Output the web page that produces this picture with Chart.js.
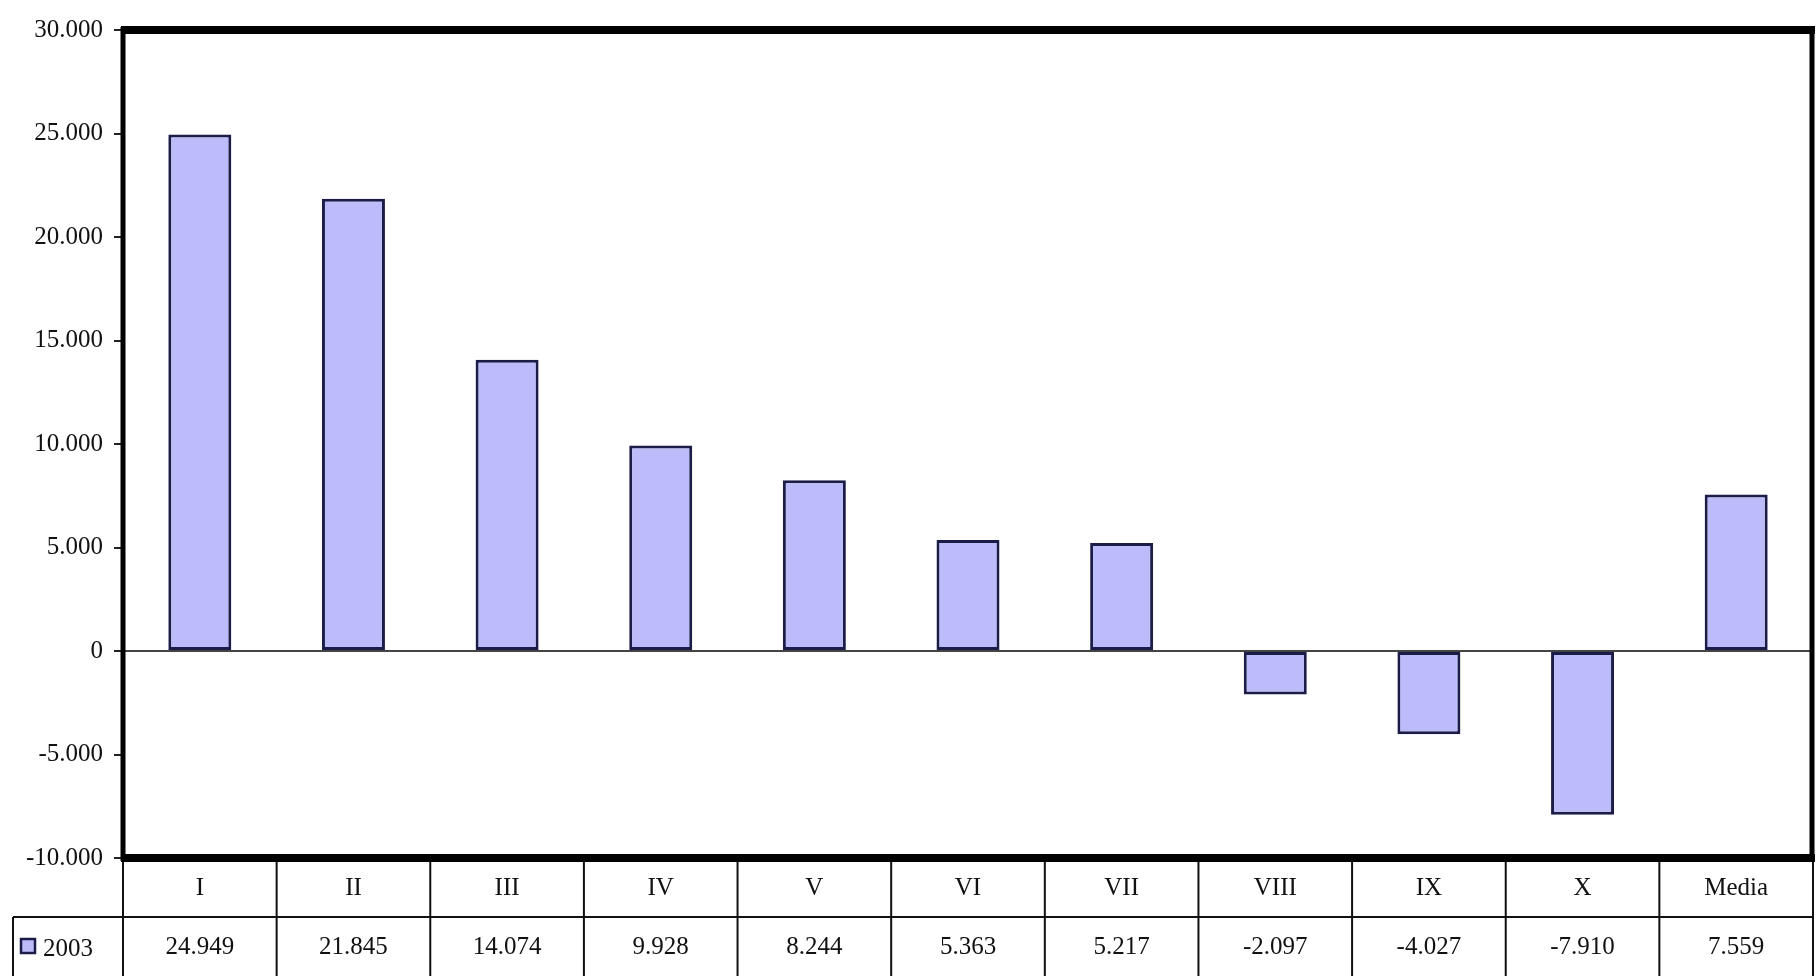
<!DOCTYPE html>
<html>
<head>
<meta charset="utf-8">
<script src="https://cdn.jsdelivr.net/npm/chart.js@4/dist/chart.umd.min.js"></script>
<style>
  html, body { margin: 0; padding: 0; background: #fff; }
  #wrap { width: 1816px; height: 976px; position: relative; }
</style>
</head>
<body>
<div id="wrap"><canvas id="c"></canvas></div>
<script>
const categories = ['I', 'II', 'III', 'IV', 'V', 'VI', 'VII', 'VIII', 'IX', 'X', 'Media'];
const values2003 = [24949, 21845, 14074, 9928, 8244, 5363, 5217, -2097, -4027, -7910, 7559];
const seriesName = '2003';
const yTicks = [-10000, -5000, 0, 5000, 10000, 15000, 20000, 25000, 30000];

const FONT = '"Liberation Serif", "Times New Roman", serif';
const BAR_FILL = '#bcbcfa';
const BAR_EDGE = '#1c1c48';
const TEXT = '#111';

function fmt(v) {
  const neg = v < 0;
  const s = String(Math.abs(Math.round(v)));
  const withDots = s.replace(/\B(?=(\d{3})+(?!\d))/g, '.');
  return (neg ? '-' : '') + withDots;
}

const framePlugin = {
  id: 'frameTable',
  beforeDatasetsDraw(chart) {
    const { ctx, chartArea: a, scales: { y } } = chart;
    const y0 = y.getPixelForValue(0);
    ctx.save();
    ctx.strokeStyle = '#444';
    ctx.lineWidth = 2;
    ctx.beginPath();
    ctx.moveTo(a.left, y0);
    ctx.lineTo(a.right, y0);
    ctx.stroke();
    ctx.restore();
  },
  afterDraw(chart) {
    const { ctx, chartArea: a, scales: { x } } = chart;
    const H = chart.height;
    const n = categories.length;
    const w = (a.right - a.left) / n;
    const row1Top = a.bottom;
    const row2Top = a.bottom + 59;
    ctx.save();
    // table grid
    ctx.strokeStyle = '#111';
    ctx.lineWidth = 2;
    ctx.beginPath();
    for (let i = 0; i <= n; i++) {
      const bx = i === n ? a.right : x.getPixelForValue(i) - w / 2;
      ctx.moveTo(bx, row1Top);
      ctx.lineTo(bx, H);
    }
    ctx.moveTo(13, row2Top);
    ctx.lineTo(a.right, row2Top);
    ctx.moveTo(13, row2Top);
    ctx.lineTo(13, H);
    ctx.stroke();

    // texts
    ctx.fillStyle = TEXT;
    ctx.font = '25px ' + FONT;
    ctx.textAlign = 'center';
    ctx.textBaseline = 'middle';
    for (let i = 0; i < n; i++) {
      const cx = x.getPixelForValue(i);
      ctx.fillText(categories[i], cx, row1Top + 30);
      ctx.fillText(fmt(values2003[i]), cx, row2Top + 30);
    }
    // legend
    ctx.fillStyle = BAR_FILL;
    ctx.fillRect(21, row2Top + 22, 14, 14);
    ctx.strokeStyle = BAR_EDGE;
    ctx.lineWidth = 2.5;
    ctx.strokeRect(21, row2Top + 22, 14, 14);
    ctx.fillStyle = TEXT;
    ctx.textAlign = 'left';
    ctx.fillText(seriesName, 43, row2Top + 32);

    // frame
    ctx.strokeStyle = '#000';
    ctx.lineWidth = 5;
    ctx.beginPath();
    ctx.moveTo(a.left, a.top - 3);
    ctx.lineTo(a.left, a.bottom + 3);
    ctx.moveTo(a.right - 1, a.top - 3);
    ctx.lineTo(a.right - 1, a.bottom + 3);
    ctx.stroke();
    ctx.lineWidth = 8;
    ctx.beginPath();
    ctx.moveTo(a.left - 2, a.top);
    ctx.lineTo(a.right + 2, a.top);
    ctx.moveTo(a.left - 2, a.bottom);
    ctx.lineTo(a.right + 2, a.bottom);
    ctx.stroke();
    ctx.restore();
  }
};

new Chart(document.getElementById('c'), {
  type: 'bar',
  data: {
    labels: categories,
    datasets: [{
      label: seriesName,
      data: values2003,
      backgroundColor: BAR_FILL,
      borderColor: BAR_EDGE,
      borderWidth: 3,
      borderSkipped: false,
      categoryPercentage: 1,
      barPercentage: 0.41
    }]
  },
  options: {
    responsive: true,
    maintainAspectRatio: false,
    animation: false,
    layout: { padding: { top: 30, bottom: 118, right: 3, left: 0 } },
    plugins: { legend: { display: false }, tooltip: { enabled: false } },
    scales: {
      x: { display: false },
      y: {
        min: -10000,
        max: 30000,
        afterBuildTicks(scale) { scale.ticks = yTicks.map(v => ({ value: v })); },
        afterFit(scale) { scale.width = 123; },
        ticks: {
          callback: v => fmt(v),
          font: { family: FONT, size: 25 },
          color: TEXT,
          padding: 11
        },
        grid: { drawOnChartArea: false, drawTicks: true, tickLength: 9, color: '#222', lineWidth: 2 },
        border: { display: false }
      }
    }
  },
  plugins: [framePlugin]
});
</script>
</body>
</html>
